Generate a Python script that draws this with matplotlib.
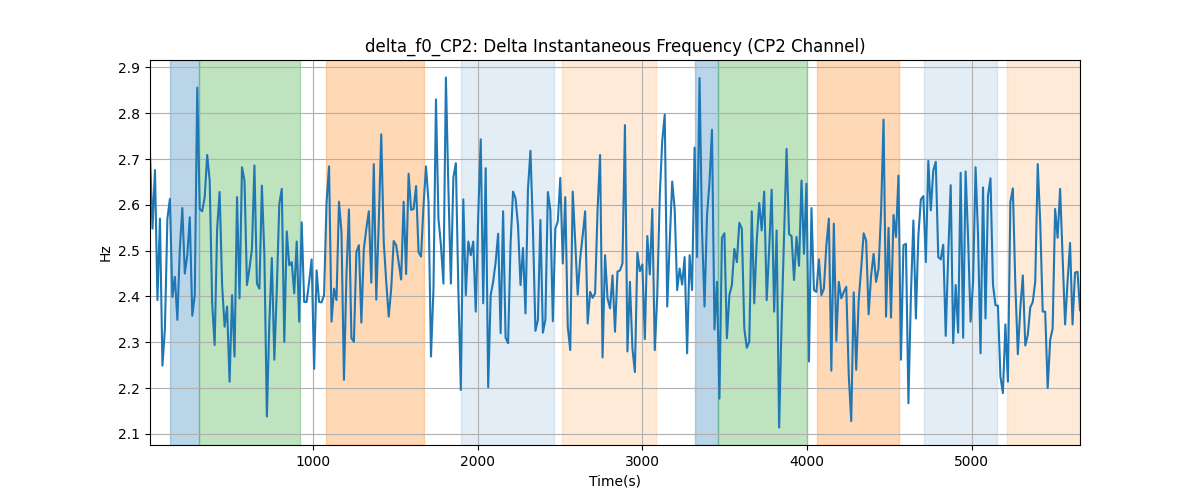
import numpy as np
import matplotlib
matplotlib.use("Agg")
import matplotlib.pyplot as plt

# Sampling of the time axis (seconds)
T0 = 10.6
STEP = 15.1

# delta f0 values (Hz)
hz_values = [
    # segment 1
    2.711, 2.548, 2.676, 2.392, 2.570, 2.249, 2.330, 2.570, 2.613, 2.399,
    2.443, 2.349, 2.504, 2.593, 2.450, 2.490, 2.573, 2.358, 2.403, 2.856,
    2.591, 2.586, 2.617, 2.709, 2.653, 2.385, 2.294, 2.548, 2.628, 2.425,
    2.334, 2.378, 2.214, 2.403, 2.269, 2.617, 2.396, 2.682, 2.653, 2.425,
    2.461, 2.504, 2.686, 2.428, 2.417, 2.642,
    # segment 2
    2.490, 2.138, 2.345, 2.484, 2.262, 2.417, 2.602, 2.635, 2.301, 2.542,
    2.468, 2.475, 2.407, 2.520, 2.345, 2.562, 2.388, 2.388, 2.432, 2.481,
    2.242, 2.457, 2.388, 2.387, 2.403, 2.606, 2.684, 2.345, 2.417, 2.392,
    2.607, 2.541, 2.218, 2.446, 2.590, 2.309, 2.301, 2.497, 2.512, 2.343,
    2.504, 2.548, 2.586, 2.430, 2.689, 2.393, 2.562, 2.754,
    # segment 3
    2.519, 2.432, 2.356, 2.417, 2.521, 2.512, 2.475, 2.437, 2.607, 2.449,
    2.668, 2.589, 2.591, 2.641, 2.497, 2.487, 2.599, 2.684, 2.606, 2.269,
    2.417, 2.830, 2.570, 2.512, 2.428, 2.878, 2.635, 2.428, 2.660, 2.691,
    2.417, 2.196, 2.612, 2.403, 2.520, 2.490, 2.520, 2.367, 2.577, 2.743,
    2.385, 2.680, 2.202, 2.403, 2.432, 2.475, 2.537,
    # segment 4
    2.320, 2.586, 2.310, 2.298, 2.515, 2.629, 2.614, 2.555, 2.425, 2.506,
    2.363, 2.635, 2.718, 2.548, 2.325, 2.349, 2.567, 2.321, 2.349, 2.628,
    2.588, 2.346, 2.548, 2.564, 2.659, 2.472, 2.617, 2.334, 2.283, 2.629,
    2.519, 2.404, 2.483, 2.533, 2.586, 2.341, 2.410, 2.397, 2.407, 2.591,
    2.709, 2.267, 2.490, 2.396, 2.374, 2.446, 2.323,
    # segment 5
    2.454, 2.457, 2.472, 2.774, 2.280, 2.432, 2.287, 2.235, 2.496, 2.455,
    2.470, 2.307, 2.532, 2.448, 2.591, 2.283, 2.403, 2.620, 2.740, 2.797,
    2.378, 2.519, 2.651, 2.591, 2.414, 2.461, 2.426, 2.486, 2.276, 2.490,
    2.414, 2.725, 2.486, 2.877, 2.544, 2.378, 2.577, 2.649, 2.764, 2.328,
    2.432, 2.177, 2.528, 2.538, 2.309, 2.403,
    # segment 6
    2.425, 2.504, 2.475, 2.561, 2.548, 2.330, 2.288, 2.301, 2.586, 2.385,
    2.522, 2.604, 2.544, 2.629, 2.392, 2.504, 2.633, 2.367, 2.544, 2.114,
    2.345, 2.533, 2.722, 2.536, 2.532, 2.436, 2.530, 2.467, 2.653, 2.493,
    2.646, 2.258, 2.593, 2.414, 2.410, 2.481, 2.403, 2.417, 2.512, 2.570,
    2.238, 2.559, 2.303, 2.432, 2.396, 2.410, 2.421, 2.229, 2.128,
    # segment 7
    2.409, 2.240, 2.392, 2.461, 2.538, 2.522, 2.361, 2.446, 2.493, 2.432,
    2.461, 2.584, 2.786, 2.356, 2.550, 2.354, 2.578, 2.530, 2.664, 2.262,
    2.512, 2.515, 2.167, 2.403, 2.566, 2.352, 2.533, 2.612, 2.619, 2.475,
    2.696, 2.588, 2.675, 2.694, 2.486, 2.481, 2.513, 2.314, 2.490, 2.643,
    2.298, 2.425, 2.321, 2.670, 2.310, 2.673,
    # segment 8
    2.526, 2.345, 2.432, 2.682, 2.533, 2.276, 2.638, 2.352, 2.620, 2.658,
    2.426, 2.381, 2.380, 2.225, 2.189, 2.339, 2.214, 2.606, 2.636, 2.425,
    2.274, 2.374, 2.446, 2.293, 2.316, 2.376, 2.388, 2.432, 2.689, 2.562,
    2.367, 2.367, 2.200, 2.305, 2.330, 2.591, 2.528, 2.635, 2.490, 2.339,
    2.432, 2.517, 2.339, 2.452, 2.454, 2.370,
]

# Shaded phases: (start s, end s, colour, alpha)
span_starts = [130, 310, 1079, 1898, 2511, 3319, 3460, 4059, 4708, 5213]
span_ends = [310, 919, 1672, 2461, 3086, 3460, 4000, 4557, 5156, 5660]
span_colors = ["tab:blue", "tab:green", "tab:orange", "tab:blue", "tab:orange",
               "tab:blue", "tab:green", "tab:orange", "tab:blue", "tab:orange"]
span_alphas = [0.3, 0.3, 0.3, 0.13, 0.16, 0.3, 0.3, 0.3, 0.13, 0.16]

title = "delta_f0_CP2: Delta Instantaneous Frequency (CP2 Channel)"

values = np.array(hz_values)
times = T0 + STEP * np.arange(len(values))

fig, ax = plt.subplots(figsize=(12, 5), dpi=100)
for s, e, c, a in zip(span_starts, span_ends, span_colors, span_alphas):
    ax.axvspan(s, e, color=c, alpha=a)
ax.plot(times, values, color="tab:blue", linewidth=1.5)
ax.set_xlim(times[0], times[-1])
ax.grid(True)
ax.set_title(title)
ax.set_xlabel("Time(s)")
ax.set_ylabel("Hz")
fig.savefig("out.png", dpi=100)
